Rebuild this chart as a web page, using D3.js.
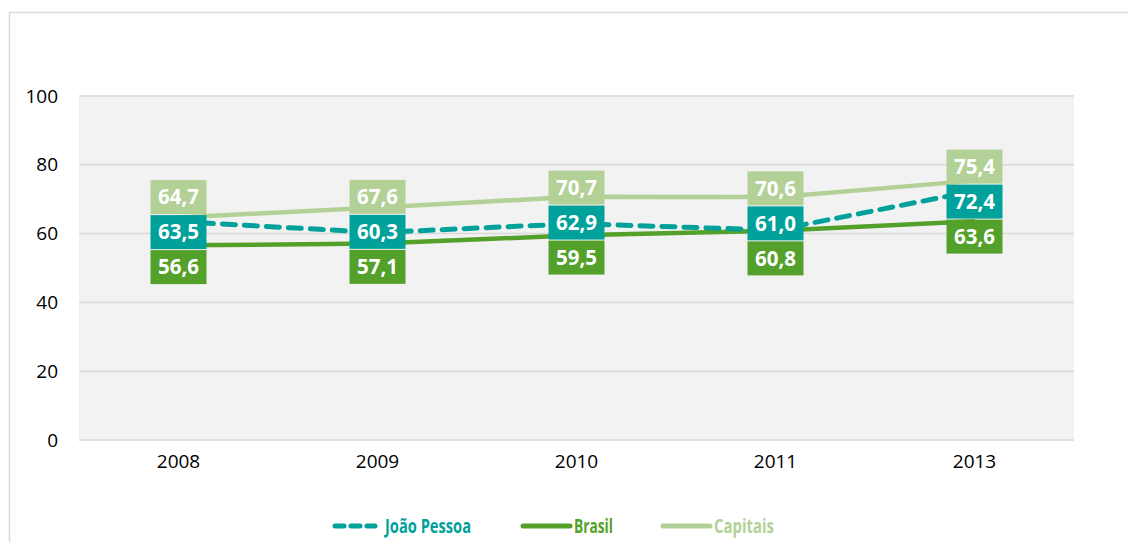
<!DOCTYPE html>
<html>
<head>
<meta charset="utf-8">
<script src="https://cdn.jsdelivr.net/npm/d3@7"></script>
<style>
  body { margin: 0; background: #fff; }
  svg { display: block; font-family: "Open Sans", sans-serif; }
</style>
</head>
<body>
<div id="chart"></div>
<script>
// chart values
var years = ["2008", "2009", "2010", "2011", "2013"];
var joaoPessoa = [63.5, 60.3, 62.9, 61.0, 72.4];
var brasil = [56.6, 57.1, 59.5, 60.8, 63.6];
var capitais = [64.7, 67.6, 70.7, 70.6, 75.4];
var yTicks = [0, 20, 40, 60, 80, 100];

var series = [
  { name: "João Pessoa", values: joaoPessoa, color: "#00a19a", dash: "13,9" },
  { name: "Brasil", values: brasil, color: "#53a12a", dash: null },
  { name: "Capitais", values: capitais, color: "#b3d197", dash: null }
];

var svgWidth = 1128, svgHeight = 542;
var margin = { top: 96, right: 54, bottom: 102, left: 79 };
var width = svgWidth - margin.left - margin.right;
var height = svgHeight - margin.top - margin.bottom;

var svg = d3.select("#chart").append("svg")
  .attr("width", svgWidth)
  .attr("height", svgHeight);

// outer frame (cropped at right and bottom)
svg.append("path")
  .attr("d", "M9.5," + svgHeight + "V12.5H" + svgWidth)
  .attr("fill", "none")
  .attr("stroke", "#d9d9d9")
  .attr("stroke-width", 1.5);

var xScale = d3.scaleBand().domain(years).range([0, width]);
var yScale = d3.scaleLinear().domain([0, 100]).range([height, 0]);
var cx = function (i) { return xScale(years[i]) + xScale.bandwidth() / 2; };

var g = svg.append("g")
  .attr("transform", "translate(" + margin.left + "," + margin.top + ")");

g.append("rect")
  .attr("width", width)
  .attr("height", height)
  .attr("fill", "#f2f2f2");

// gridlines
g.selectAll(".grid").data(yTicks).enter().append("line")
  .attr("x1", 0).attr("x2", width)
  .attr("y1", function (d) { return yScale(d); })
  .attr("y2", function (d) { return yScale(d); })
  .attr("stroke", "#d9d9d9")
  .attr("stroke-width", 1.5);

// y axis labels
var yAxis = g.append("g")
  .call(d3.axisLeft(yScale).tickValues(yTicks).tickSize(0).tickPadding(21));
yAxis.select(".domain").remove();
yAxis.selectAll("text")
  .attr("font-family", "Open Sans, sans-serif")
  .attr("font-size", "19px")
  .attr("fill", "#000");

// x axis labels
var xAxis = g.append("g")
  .attr("transform", "translate(0," + height + ")")
  .call(d3.axisBottom(xScale).tickSize(0).tickPadding(15));
xAxis.select(".domain").remove();
xAxis.selectAll("text")
  .attr("font-family", "Open Sans, sans-serif")
  .attr("font-size", "19px")
  .attr("fill", "#000");

// lines
var line = d3.line()
  .x(function (d, i) { return cx(i); })
  .y(function (d) { return yScale(d); });

[series[2], series[1], series[0]].forEach(function (s) {
  g.append("path")
    .attr("d", line(s.values))
    .attr("fill", "none")
    .attr("stroke", s.color)
    .attr("stroke-width", s.dash ? 5 : 4.5)
    .attr("stroke-linecap", s.dash ? "round" : "butt")
    .attr("stroke-dasharray", s.dash);
});

// data labels: stacked boxes (Capitais, João Pessoa, Brasil) per year,
// the stack is centred a little below the mean of the three points
var boxW = 56, boxH = 35;
var order = [series[2], series[0], series[1]];
years.forEach(function (yr, i) {
  var ys = order.map(function (s) { return yScale(s.values[i]); });
  var mid = d3.mean(ys) + 4;
  order.forEach(function (s, k) {
    var cy = mid + (k - 1) * boxH;
    var lab = g.append("g").attr("transform", "translate(" + cx(i) + "," + cy + ")");
    lab.append("rect")
      .attr("x", -boxW / 2).attr("y", -boxH / 2 + 0.5)
      .attr("width", boxW).attr("height", boxH - 1)
      .attr("fill", s.color);
    lab.append("text")
      .attr("text-anchor", "middle")
      .attr("dy", "0.36em")
      .attr("font-weight", "bold")
      .attr("font-size", "20.5px")
      .attr("fill", "#fff")
      .text(d3.format(".1f")(s.values[i]).replace(".", ","));
  });
});

// legend (condensed text squeezed to the original widths)
var legendX = [333, 523, 663];
var legendW = [86, 39, 60];
var legend = svg.append("g").attr("transform", "translate(0,526)");
series.forEach(function (s, i) {
  legend.append("line")
    .attr("x1", legendX[i] + (s.dash ? 2 : 0)).attr("x2", legendX[i] + (s.dash ? 42 : 47))
    .attr("y1", 0).attr("y2", 0)
    .attr("stroke", s.color)
    .attr("stroke-width", 5)
    .attr("stroke-linecap", "round")
    .attr("stroke-dasharray", s.dash ? "9,7" : null);
  legend.append("text")
    .attr("x", legendX[i] + (s.dash ? 52 : 51))
    .attr("y", 0)
    .attr("dy", "0.36em")
    .attr("font-weight", "bold")
    .attr("font-size", "19px")
    .attr("textLength", legendW[i])
    .attr("lengthAdjust", "spacingAndGlyphs")
    .attr("fill", s.color)
    .text(s.name);
});
</script>
</body>
</html>
